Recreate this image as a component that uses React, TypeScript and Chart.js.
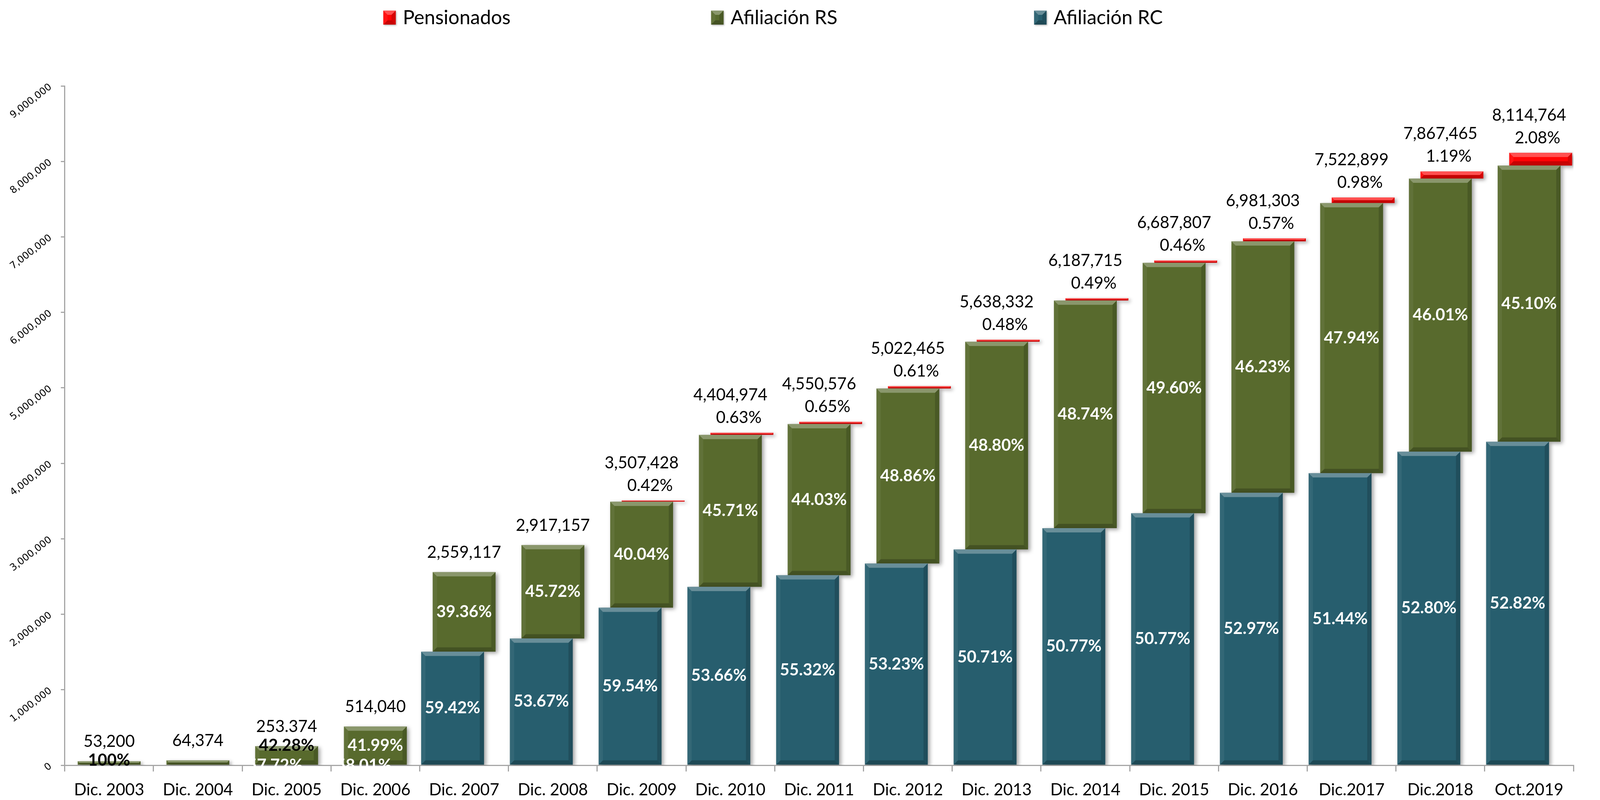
import React, { useEffect, useRef, useState } from "react";
import { Chart, registerables } from "chart.js";

Chart.register(...registerables);

// ---------- data ----------
const categories = [
  "Dic. 2003", "Dic. 2004", "Dic. 2005", "Dic. 2006", "Dic. 2007", "Dic. 2008",
  "Dic. 2009", "Dic. 2010", "Dic. 2011", "Dic. 2012", "Dic. 2013", "Dic. 2014",
  "Dic. 2015", "Dic. 2016", "Dic.2017", "Dic.2018", "Oct.2019",
];

const afiliacionRC = [
  0, 0, 0, 0, 1505000, 1680000, 2088323, 2363709, 2517379, 2673458, 2859198,
  3141503, 3339891, 3610000, 3869779, 4154022, 4286218,
];

const afiliacionRS = [
  53200, 64374, 253374, 514040, 1054117, 1237157, 1404374, 2013514, 2003619,
  2318370, 2752070, 3015892, 3317152, 3331510, 3579396, 3619821, 3659759,
];

const pensionados = [
  0, 0, 0, 0, 0, 0, 14731, 27751, 29579, 30637, 27064, 30320, 30764, 39793,
  73724, 93623, 168787,
];

const totalLabels = [
  "53,200", "64,374", "253.374", "514,040", "2,559,117", "2,917,157",
  "3,507,428", "4,404,974", "4,550,576", "5,022,465", "5,638,332", "6,187,715",
  "6,687,807", "6,981,303", "7,522,899", "7,867,465", "8,114,764",
];

const rcPctLabels = [
  "", "", "57.72%", "58.01%", "59.42%", "53.67%", "59.54%", "53.66%", "55.32%",
  "53.23%", "50.71%", "50.77%", "50.77%", "52.97%", "51.44%", "52.80%", "52.82%",
];

const rsPctLabels = [
  "100%", "", "42.28%", "41.99%", "39.36%", "45.72%", "40.04%", "45.71%", "44.03%",
  "48.86%", "48.80%", "48.74%", "49.60%", "46.23%", "47.94%", "46.01%", "45.10%",
];

const pensionPctLabels = [
  "", "", "", "", "", "", "0.42%", "0.63%", "0.65%", "0.61%", "0.48%", "0.49%",
  "0.46%", "0.57%", "0.98%", "1.19%", "2.08%",
];

const yTickLabels = [
  "0", "1,000,000", "2,000,000", "3,000,000", "4,000,000", "5,000,000",
  "6,000,000", "7,000,000", "8,000,000", "9,000,000",
];

const seriesNames = ["Afiliación RC", "Afiliación RS", "Pensionados"];

// ---------- styles ----------
const COLOR_RC = "#275E6E";
const COLOR_RS = "#586A2D";
const COLOR_P = "#FF0505";
const AXIS_GRAY = "#A6A6A6";
const FONT = "Lato";

type Box = { left: number; right: number; top: number; bottom: number; cx: number; h: number };

function elBox(el: any): Box {
  const p = el.getProps(["x", "y", "base", "width"], true);
  const left = p.x - p.width / 2;
  const right = p.x + p.width / 2;
  const top = Math.min(p.y, p.base);
  const bottom = Math.max(p.y, p.base);
  return { left, right, top, bottom, cx: p.x, h: bottom - top };
}

function drawBevel(ctx: CanvasRenderingContext2D, b: Box) {
  const w = b.right - b.left;
  const h = b.h;
  if (h < 1 || w < 1) return;
  const s = Math.min(11, h / 2, w / 2);
  const { left, right, top, bottom } = b;
  ctx.fillStyle = "rgba(255,255,255,0.30)";
  ctx.beginPath();
  ctx.moveTo(left, top);
  ctx.lineTo(right, top);
  ctx.lineTo(right - s, top + s);
  ctx.lineTo(left + s, top + s);
  ctx.closePath();
  ctx.fill();
  ctx.fillStyle = "rgba(255,255,255,0.06)";
  ctx.beginPath();
  ctx.moveTo(left, top);
  ctx.lineTo(left + s, top + s);
  ctx.lineTo(left + s, bottom - s);
  ctx.lineTo(left, bottom);
  ctx.closePath();
  ctx.fill();
  ctx.fillStyle = "rgba(0,0,0,0.16)";
  ctx.beginPath();
  ctx.moveTo(right, top);
  ctx.lineTo(right - s, top + s);
  ctx.lineTo(right - s, bottom - s);
  ctx.lineTo(right, bottom);
  ctx.closePath();
  ctx.fill();
  ctx.fillStyle = "rgba(0,0,0,0.22)";
  ctx.beginPath();
  ctx.moveTo(left, bottom);
  ctx.lineTo(right, bottom);
  ctx.lineTo(right - s, bottom - s);
  ctx.lineTo(left + s, bottom - s);
  ctx.closePath();
  ctx.fill();
}

function makeDecorPlugin(kx: number) {
  return {
    id: "decor",
    beforeDatasetsDraw(chart: any) {
      const ctx = chart.ctx as CanvasRenderingContext2D;
      ctx.save();
      ctx.shadowColor = "rgba(0,0,0,0.38)";
      ctx.shadowBlur = 10;
      ctx.shadowOffsetX = 5;
      ctx.shadowOffsetY = 4;
    },
    afterDatasetsDraw(chart: any) {
      const ctx = chart.ctx as CanvasRenderingContext2D;
      ctx.restore();
      ctx.save();
      for (let d = 0; d < 3; d++) {
        const meta = chart.getDatasetMeta(d);
        meta.data.forEach((el: any) => drawBevel(ctx, elBox(el)));
      }
      const mRC = chart.getDatasetMeta(0);
      const mRS = chart.getDatasetMeta(1);
      const mP = chart.getDatasetMeta(2);
      ctx.textAlign = "center";
      ctx.textBaseline = "middle";
      for (let i = 0; i < categories.length; i++) {
        const rc = elBox(mRC.data[i]);
        const rs = elBox(mRS.data[i]);
        const p = elBox(mP.data[i]);
        const stackTop = Math.min(p.top, rs.top);
        ctx.fillStyle = "#000";
        ctx.font = `42px ${FONT}`;
        if (pensionPctLabels[i]) {
          ctx.fillText(pensionPctLabels[i], p.cx - 8, stackTop - 38);
          ctx.fillText(totalLabels[i], rs.cx, stackTop - 96);
        } else {
          ctx.fillText(totalLabels[i], rs.cx, stackTop - 50);
        }
        if (rsPctLabels[i]) {
          ctx.font = `bold 42px ${FONT}`;
          if (rs.h >= 70) {
            ctx.fillStyle = "#FFFFFF";
            ctx.fillText(rsPctLabels[i], rs.cx, (rs.top + rs.bottom) / 2);
          } else {
            ctx.fillStyle = "#000";
            ctx.fillText(rsPctLabels[i], rs.cx, rs.top - 2);
          }
        }
        if (rcPctLabels[i]) {
          ctx.font = `bold 42px ${FONT}`;
          ctx.fillStyle = "#FFFFFF";
          ctx.fillText(rcPctLabels[i], rc.cx, (rc.top + rc.bottom) / 2);
        }
      }
      ctx.restore();
    },
    afterDraw(chart: any) {
      // legend (order: Pensionados, Afiliación RS, Afiliación RC)
      const ctx = chart.ctx as CanvasRenderingContext2D;
      const order = [2, 1, 0];
      const xs = [1024 * kx, 1907 * kx, 2777 * kx];
      ctx.save();
      order.forEach((d, k) => {
        const ds = chart.data.datasets[d];
        const x = xs[k];
        const y = 19;
        ctx.save();
        ctx.shadowColor = "rgba(0,0,0,0.3)";
        ctx.shadowBlur = 4;
        ctx.shadowOffsetX = 2;
        ctx.shadowOffsetY = 2;
        ctx.fillStyle = ds.backgroundColor;
        ctx.fillRect(x, y, 32, 36);
        ctx.restore();
        drawBevel(ctx, { left: x, right: x + 32, top: y, bottom: y + 36, cx: x + 16, h: 36 });
        ctx.fillStyle = "#000";
        ctx.font = `50px ${FONT}`;
        ctx.textAlign = "left";
        ctx.textBaseline = "middle";
        ctx.fillText(ds.label, x + 50, y + 19);
      });
      ctx.restore();
    },
  };
}

export default function App() {
  const ref = useRef<HTMLCanvasElement | null>(null);
  const [size] = useState(() => ({
    w: Math.max(400, (typeof window !== "undefined" ? window.innerWidth : 4309) - 16),
    h: Math.max(300, (typeof window !== "undefined" ? window.innerHeight : 2048) - 16),
  }));

  useEffect(() => {
    if (!ref.current) return;
    const kx = size.w / 4293;
    const rcData = afiliacionRC.map((v) => [0, v]);
    const rsData = afiliacionRS.map((v, i) => [afiliacionRC[i], afiliacionRC[i] + v]);
    const pData = pensionados.map((v, i) => {
      const b = afiliacionRC[i] + afiliacionRS[i];
      return [b, b + v];
    });

    const chart = new Chart(ref.current, {
      type: "bar",
      data: {
        labels: categories,
        datasets: [
          { label: seriesNames[0], data: rcData as any, backgroundColor: COLOR_RC, borderWidth: 0 },
          { label: seriesNames[1], data: rsData as any, backgroundColor: COLOR_RS, borderWidth: 0 },
          { label: seriesNames[2], data: pData as any, backgroundColor: COLOR_P, borderWidth: 0 },
        ],
      },
      options: {
        responsive: false,
        animation: false,
        devicePixelRatio: 1,
        datasets: {
          bar: {
            categoryPercentage: 0.39,
            barPercentage: 5.45,
            grouped: true,
          },
        },
        layout: { padding: { top: 212, right: 63 * kx, bottom: 0, left: 0 } },
        plugins: {
          legend: { display: false },
          tooltip: { enabled: false },
          title: { display: false },
        },
        scales: {
          x: {
            type: "category",
            offset: true,
            grid: {
              display: true,
              offset: true,
              drawOnChartArea: false,
              drawTicks: true,
              tickLength: 16,
              color: AXIS_GRAY,
              lineWidth: 3,
            },
            border: { display: true, color: AXIS_GRAY, width: 3 },
            ticks: {
              font: { family: FONT, size: 42 },
              color: "#000",
              padding: 22,
              maxRotation: 0,
              minRotation: 0,
              autoSkip: false,
            },
            afterFit: (scale: any) => {
              scale.height = 81;
            },
          },
          y: {
            type: "linear",
            min: 0,
            max: 9000000,
            grid: {
              display: true,
              drawOnChartArea: false,
              drawTicks: true,
              tickLength: 10,
              color: AXIS_GRAY,
              lineWidth: 3,
            },
            border: { display: true, color: AXIS_GRAY, width: 3 },
            ticks: {
              stepSize: 1000000,
              font: { family: "DejaVu Sans", size: 25 },
              color: "#000",
              padding: 26,
              minRotation: 38,
              maxRotation: 38,
              callback: (_v: any, idx: number) => yTickLabels[idx],
            },
            afterFit: (scale: any) => {
              scale.width = 166 * kx;
            },
          },
        },
      } as any,
      plugins: [makeDecorPlugin(kx)],
    });
    return () => chart.destroy();
  }, [size]);

  return (
    <div style={{ width: size.w, height: size.h, position: "relative", overflow: "hidden" }}>
      <canvas
        ref={ref}
        width={size.w}
        height={size.h}
        style={{ display: "block", width: size.w, height: size.h }}
      />
    </div>
  );
}
